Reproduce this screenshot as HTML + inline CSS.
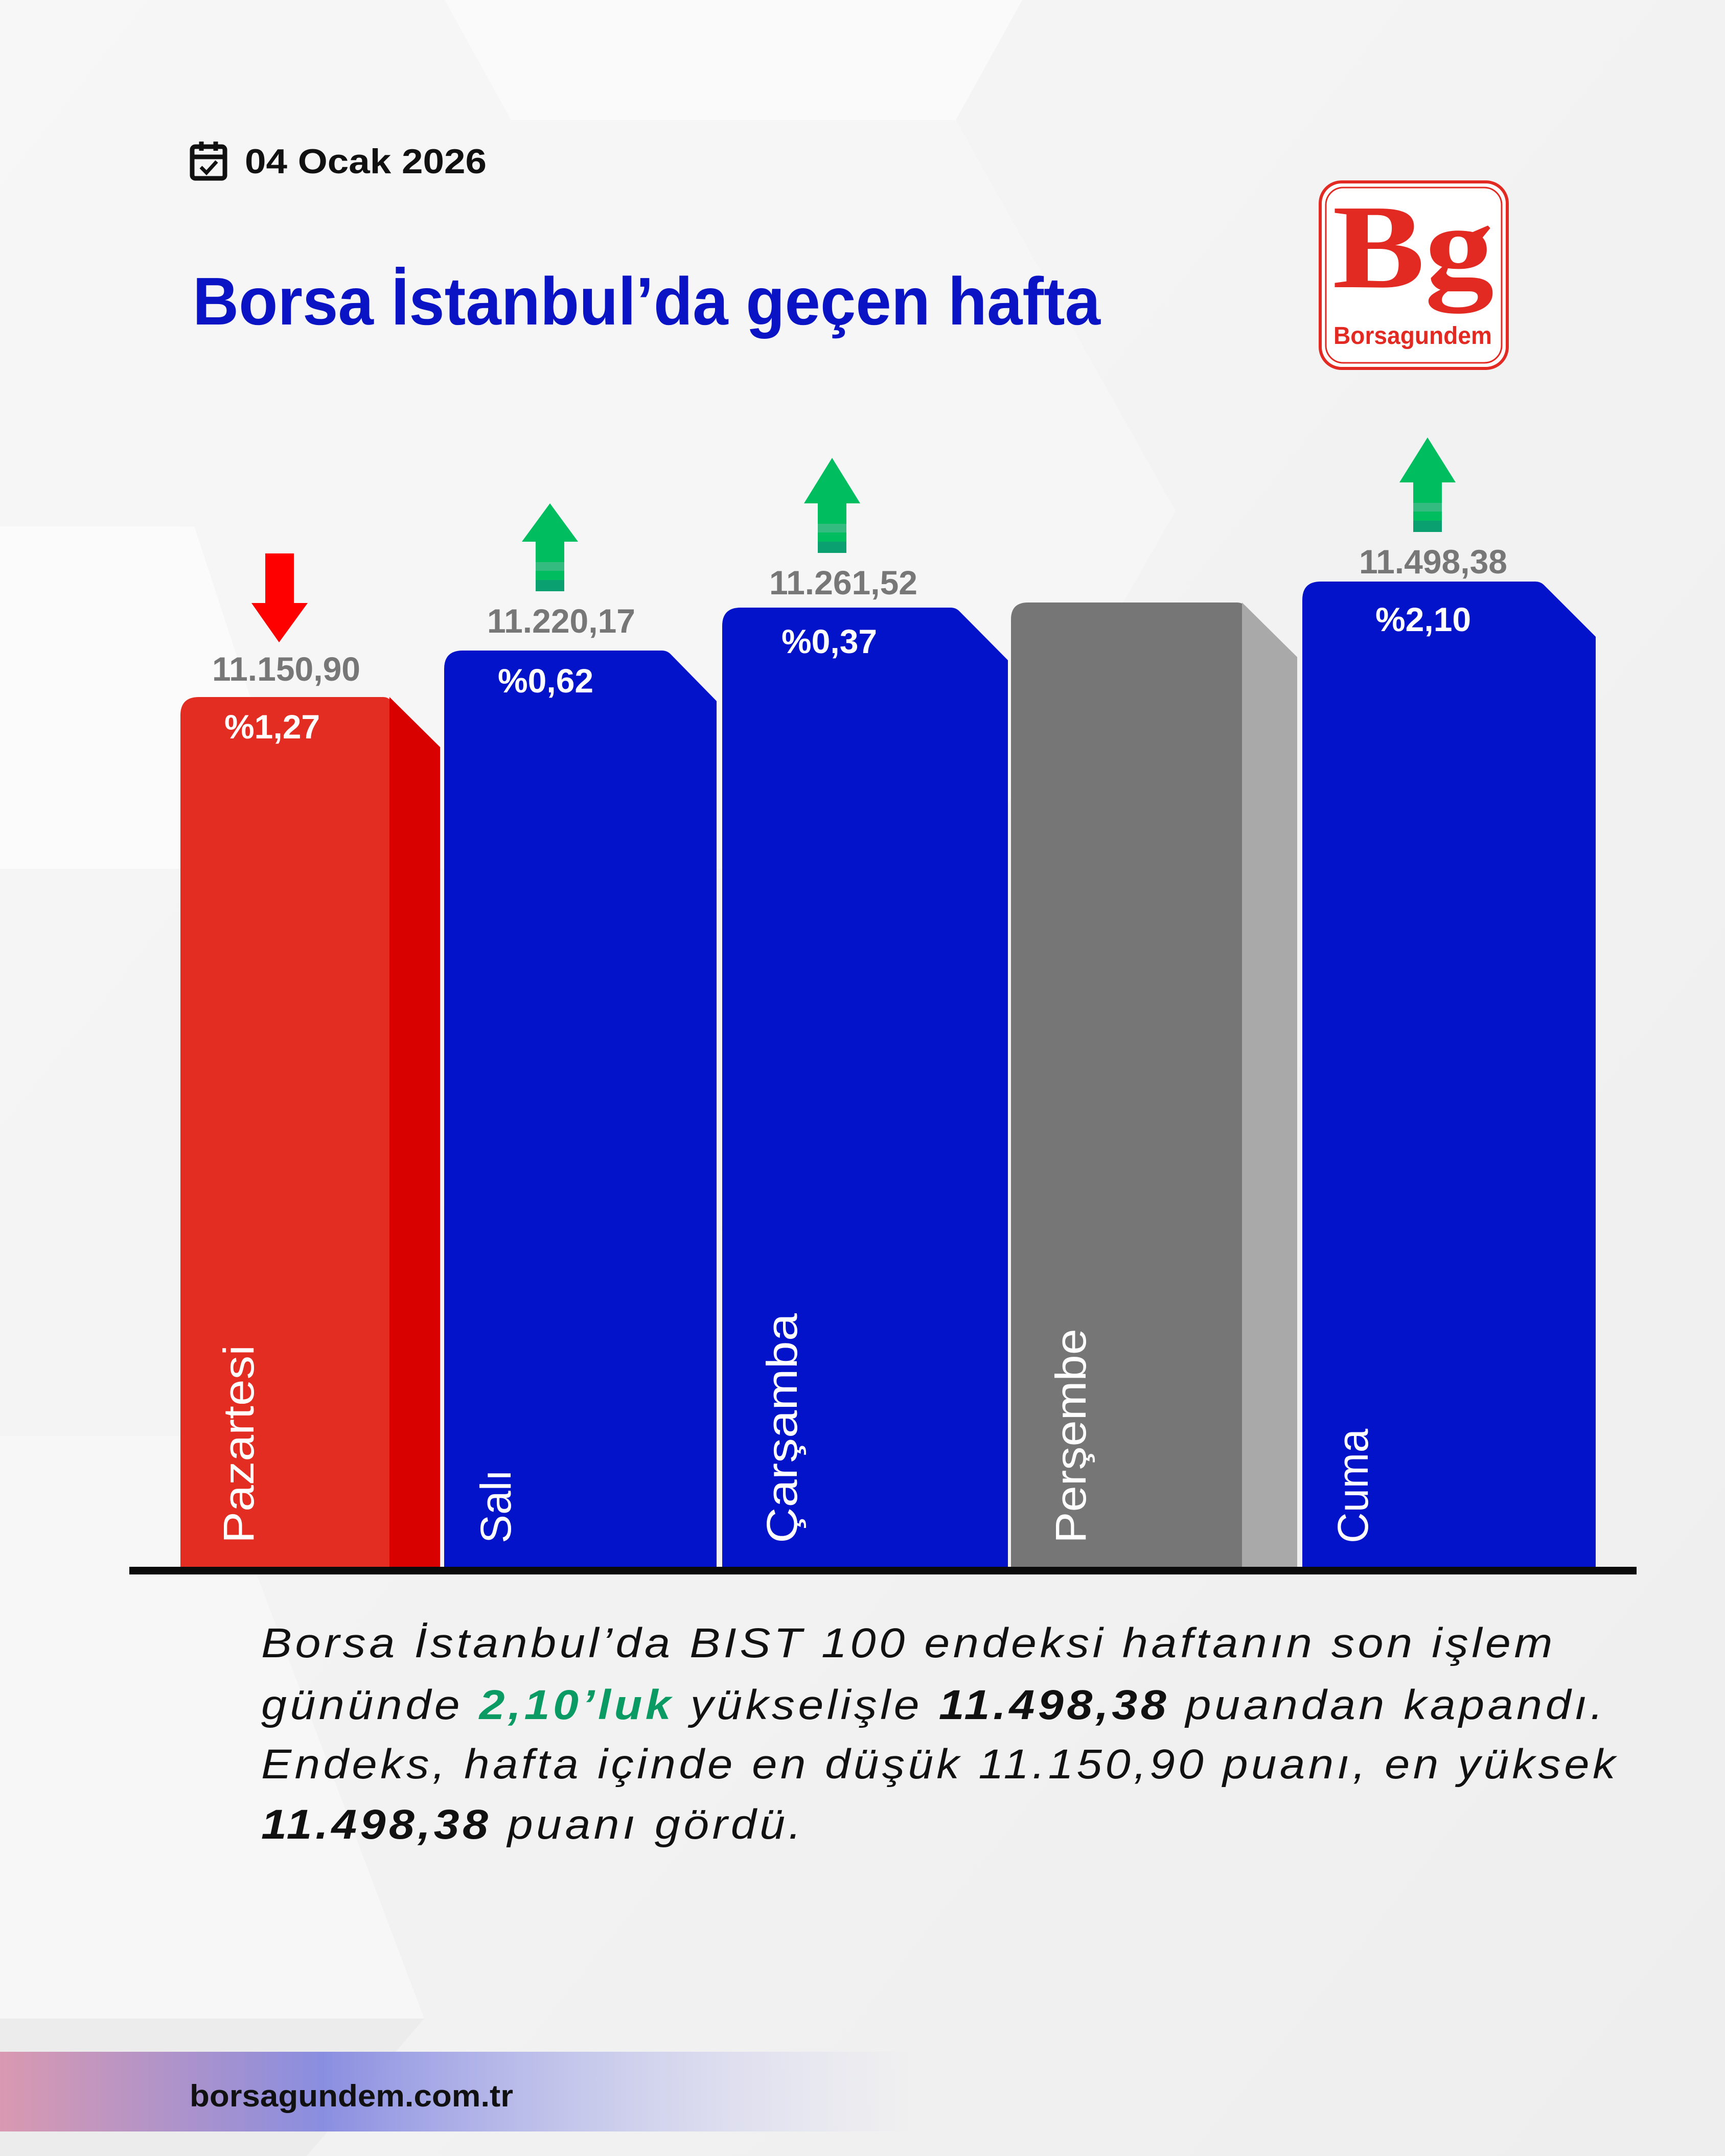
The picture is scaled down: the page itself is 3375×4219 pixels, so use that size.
<!DOCTYPE html>
<html><head><meta charset="utf-8"><style>html,body{margin:0;padding:0;background:#f3f3f3}svg{display:block}</style></head>
<body>
<svg width="3375" height="4219" viewBox="0 0 3375 4219" xmlns="http://www.w3.org/2000/svg" font-family="Liberation Sans, sans-serif">
<defs>
<linearGradient id="bg" x1="0" y1="0" x2="1" y2="1"><stop offset="0" stop-color="#f7f7f7"/><stop offset="1" stop-color="#eeeeee"/></linearGradient>
<linearGradient id="ft" x1="0" y1="0" x2="1" y2="0"><stop offset="0" stop-color="#d999b0"/><stop offset="0.35" stop-color="#8a8ee0"/><stop offset="1" stop-color="#c8caf0" stop-opacity="0"/></linearGradient>
</defs>
<rect width="3375" height="4219" fill="url(#bg)"/>
<polygon points="870,0 2000,0 1870,235 1000,235" fill="#fafafa"/>
<polygon points="1000,235 1870,235 2300,1000 1900,1700 600,1700 380,1030" fill="#f6f6f6"/>
<polygon points="0,1030 380,1030 600,1700 0,1700" fill="#fbfbfb"/>
<polygon points="0,2810 400,2810 830,3950 0,3950" fill="#f7f7f7"/>
<polygon points="0,3950 830,3950 600,4219 0,4219" fill="#ececec"/>
<!-- header -->
<g fill="none" stroke="#111" stroke-width="9">
<rect x="376" y="287" width="64" height="62" rx="6"/>
<line x1="376" y1="307" x2="440" y2="307"/>
<line x1="394" y1="277" x2="394" y2="295"/><line x1="422" y1="277" x2="422" y2="295"/>
<polyline points="393,327 404,338 424,316" stroke-width="7"/>
</g>
<text x="479" y="339" font-size="68" font-weight="bold" fill="#111" textLength="473" lengthAdjust="spacingAndGlyphs">04 Ocak 2026</text>
<text x="377" y="635" font-size="132" font-weight="bold" fill="#0a14c4" textLength="1776" lengthAdjust="spacingAndGlyphs">Borsa İstanbul’da geçen hafta</text>
<!-- logo -->
<rect x="2583" y="356" width="366" height="365" rx="42" fill="#fff" stroke="#e32a22" stroke-width="6"/>
<rect x="2594" y="367" width="344" height="343" rx="34" fill="none" stroke="#e32a22" stroke-width="3"/>
<text x="2607" y="562" font-size="235" font-weight="bold" font-family="Liberation Serif, serif" fill="#e32a22" textLength="316" lengthAdjust="spacingAndGlyphs">Bg</text>
<text x="2609" y="673" font-size="48" font-weight="bold" fill="#e32a22" textLength="310" lengthAdjust="spacingAndGlyphs">Borsagundem</text>
<!-- bars -->
<path d="M353,3068 V1400 Q353,1364 389,1364 H750 Q762,1364 770,1378 L861,1462 V3068 Z" fill="#e32c22"/>
<path d="M762,1364 L861,1462 V3068 H762 Z" fill="#d90000"/>
<path d="M869,3068 V1309 Q869,1273 905,1273 H1295 Q1305,1273 1312,1280 L1402,1372 V3068 Z" fill="#0313c9"/>
<path d="M1413,3068 V1225 Q1413,1189 1449,1189 H1860 Q1870,1189 1877,1196 L1972,1292 V3068 Z" fill="#0313c9"/>
<path d="M1978,3068 V1212 Q1978,1179 2011,1179 H2420 Q2430,1179 2437,1186 L2538,1286 V3068 Z" fill="#767676"/>
<path d="M2430,1179 L2538,1286 V3068 H2430 Z" fill="#a9a9a9"/>
<path d="M2548,3068 V1174 Q2548,1138 2584,1138 H3004 Q3014,1138 3021,1145 L3122,1246 V3068 Z" fill="#0313c9"/>
<rect x="253" y="3066" width="2949" height="15" fill="#0b0b0b"/>
<!-- arrows -->
<path d="M519,1083 H575 V1180 H602 L546,1257 L492,1180 H519 Z" fill="#ff0000"/>
<g>
<path d="M1048,1157 V1060 H1021 L1076,985 L1131,1060 H1104 V1157 Z" fill="#00be5f"/>
<rect x="1048" y="1100" width="56" height="17" fill="#34bb80"/><rect x="1048" y="1135" width="56" height="22" fill="#0aa070"/>
<path d="M1600,1082 V985 H1573 L1628,896 L1683,985 H1656 V1082 Z" fill="#00be5f"/>
<rect x="1600" y="1025" width="56" height="17" fill="#34bb80"/><rect x="1600" y="1060" width="56" height="22" fill="#0aa070"/>
<path d="M2765,1041 V944 H2738 L2793,856 L2848,944 H2821 V1041 Z" fill="#00be5f"/>
<rect x="2765" y="984" width="56" height="17" fill="#34bb80"/><rect x="2765" y="1019" width="56" height="22" fill="#0aa070"/>
</g>
<!-- value labels -->
<g font-size="66" font-weight="bold" fill="#777" text-anchor="middle">
<text x="560" y="1332">11.150,90</text>
<text x="1098" y="1238">11.220,17</text>
<text x="1650" y="1163">11.261,52</text>
<text x="2804" y="1122">11.498,38</text>
</g>
<g font-size="66" font-weight="bold" fill="#fff">
<text x="439" y="1445">%1,27</text>
<text x="974" y="1355">%0,62</text>
<text x="1529" y="1278">%0,37</text>
<text x="2691" y="1235">%2,10</text>
</g>
<!-- day labels -->
<g font-size="84" fill="#fff">
<text transform="translate(496,3020) rotate(-90)" textLength="388" lengthAdjust="spacingAndGlyphs">Pazartesi</text>
<text transform="translate(999,3020) rotate(-90)">Salı</text>
<text transform="translate(1559,3020) rotate(-90)" textLength="450" lengthAdjust="spacingAndGlyphs">Çarşamba</text>
<text transform="translate(2124,3020) rotate(-90)" textLength="420" lengthAdjust="spacingAndGlyphs">Perşembe</text>
<text transform="translate(2676,3020) rotate(-90)">Cuma</text>
</g>
<!-- paragraph -->
<g font-size="82" font-style="italic" fill="#111" letter-spacing="6">
<text x="511" y="3243" textLength="2533" lengthAdjust="spacingAndGlyphs">Borsa İstanbul’da BIST 100 endeksi haftanın son işlem</text>
<text x="511" y="3364" textLength="2632" lengthAdjust="spacingAndGlyphs">gününde <tspan font-weight="bold" fill="#0a9a63">2,10’luk</tspan> yükselişle <tspan font-weight="bold">11.498,38</tspan> puandan kapandı.</text>
<text x="511" y="3480" textLength="2656" lengthAdjust="spacingAndGlyphs">Endeks, hafta içinde en düşük 11.150,90 puanı, en yüksek</text>
<text x="511" y="3598" textLength="1063" lengthAdjust="spacingAndGlyphs"><tspan font-weight="bold">11.498,38</tspan> puanı gördü.</text>
</g>
<!-- footer -->
<rect x="0" y="4015" width="1800" height="156" fill="url(#ft)"/>
<text x="371" y="4122" font-size="60" font-weight="bold" fill="#111" textLength="633" lengthAdjust="spacingAndGlyphs">borsagundem.com.tr</text>
</svg>
</body></html>
